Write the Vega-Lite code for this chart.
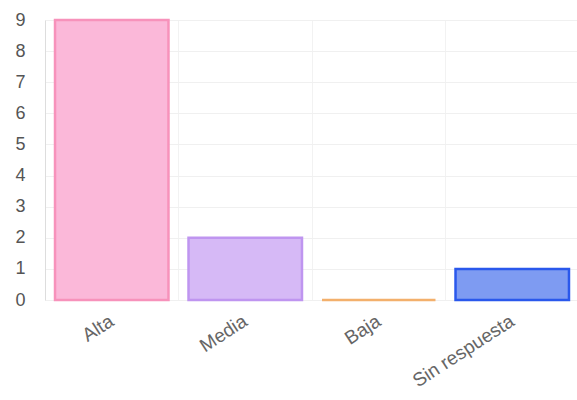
{
  "$schema": "https://vega.github.io/schema/vega-lite/v6.json",
  "width": 534,
  "height": 280,
  "autosize": "none",
  "padding": {"left": 45, "top": 20, "right": 0, "bottom": 100},
  "background": "white",
  "data": {"values": [
    {"categoria": "Alta", "valor": 9},
    {"categoria": "Media", "valor": 2},
    {"categoria": "Baja", "valor": 0},
    {"categoria": "Sin respuesta", "valor": 1}
  ]},
  "config": {
    "view": {"stroke": null},
    "font": "Liberation Sans"
  },
  "mark": {"type": "bar", "strokeWidth": 2.5},
  "encoding": {
    "x": {
      "field": "categoria", "type": "nominal", "sort": null,
      "scale": {"paddingInner": 0.15, "paddingOuter": 0.075},
      "axis": {
        "title": null, "labelAngle": -33, "labelAlign": "right", "labelBaseline": "middle",
        "labelFontSize": 19, "labelColor": "#666666", "labelPadding": 19,
        "ticks": false, "domain": false, "grid": true, "gridColor": "#f2f2f2",
        "bandPosition": -0.088
      }
    },
    "y": {
      "field": "valor", "type": "quantitative",
      "scale": {"domain": [0, 9], "nice": false},
      "axis": {
        "title": null, "values": [0,1,2,3,4,5,6,7,8,9], "labelFontSize": 18, "labelColor": "#555555",
        "labelPadding": 20, "ticks": false, "domain": true, "domainColor": "#dddddd",
        "grid": true, "gridColor": "#f0f0f0"
      }
    },
    "fill": {
      "field": "categoria", "type": "nominal", "legend": null,
      "scale": {"domain": ["Alta", "Media", "Baja", "Sin respuesta"], "range": ["#fbb8d9", "#d6b9f6", "#fde3c8", "#7e9bf2"]}
    },
    "stroke": {
      "field": "categoria", "type": "nominal", "legend": null,
      "scale": {"domain": ["Alta", "Media", "Baja", "Sin respuesta"], "range": ["#f792bb", "#bf95f0", "#f3b06c", "#2a58ec"]}
    }
  }
}
